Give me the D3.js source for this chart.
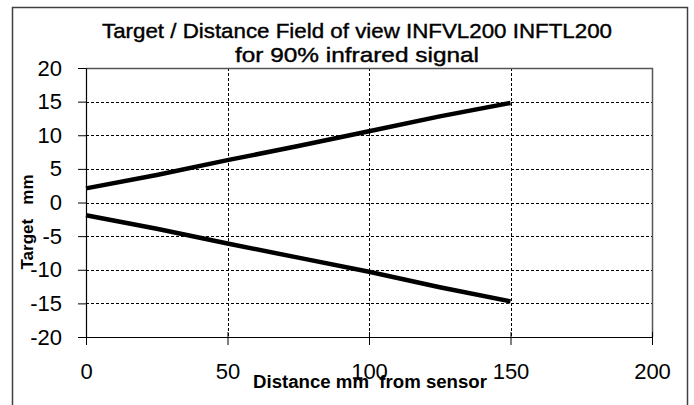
<!DOCTYPE html>
<html>
<head>
<meta charset="utf-8">
<script src="https://cdn.jsdelivr.net/npm/d3@7"></script>
<style>
  body { margin: 0; background: #fff; }
  svg text { font-family: "Liberation Sans", Arial, sans-serif; }
</style>
</head>
<body>
<div id="chart"></div>
<script>
// values (distance in mm, target in mm)
var distance = [0, 25, 50, 75, 100, 125, 150];
var upperEdge = [2.1, 4.1, 6.3, 8.4, 10.6, 12.8, 14.8];
var lowerEdge = [-1.9, -3.9, -6.1, -8.2, -10.3, -12.6, -14.7];
var xTicks = [0, 50, 100, 150, 200];
var yTicks = [-20, -15, -10, -5, 0, 5, 10, 15, 20];
var titleLines = ["Target / Distance Field of view INFVL200 INFTL200", "for 90% infrared signal"];

var W = 694, H = 405;
var margin = {top: 68, right: 42, bottom: 68, left: 86};
var width = W - margin.left - margin.right;
var height = H - margin.top - margin.bottom;

var svg = d3.select("#chart").append("svg")
  .attr("width", W).attr("height", H);

// outer chart border
svg.append("rect")
  .attr("x", 12.5).attr("y", 7.5)
  .attr("width", 675).attr("height", 420)
  .attr("fill", "none").attr("stroke", "#404040").attr("stroke-width", 1.5);

var g = svg.append("g")
  .attr("transform", "translate(" + margin.left + "," + margin.top + ")");

var x = d3.scaleLinear().domain([0, 200]).range([0, width]);
var y = d3.scaleLinear().domain([-20, 20]).range([height, 0]);

// dashed grid
g.append("g").selectAll("line")
  .data(yTicks.filter(function(d) { return d > -20 && d < 20; }))
  .enter().append("line")
    .attr("x1", 0).attr("x2", width)
    .attr("y1", function(d) { return Math.round(y(d)) + 0.5; })
    .attr("y2", function(d) { return Math.round(y(d)) + 0.5; })
    .attr("stroke", "#000").attr("stroke-dasharray", "3,2");
g.append("g").selectAll("line")
  .data(xTicks.filter(function(d) { return d > 0 && d < 200; }))
  .enter().append("line")
    .attr("y1", 0).attr("y2", height)
    .attr("x1", function(d) { return Math.round(x(d)) + 0.5; })
    .attr("x2", function(d) { return Math.round(x(d)) + 0.5; })
    .attr("stroke", "#000").attr("stroke-dasharray", "3,2");

// plot frame top/right
g.append("path")
  .attr("d", "M0,0.5H" + (width + 0.5) + "V" + height)
  .attr("fill", "none").attr("stroke", "#555").attr("stroke-width", 1.5);

// axes (plain hyphen minus like the original)
var fmt = function(d) { return String(d); };

var xAxis = g.append("g")
  .attr("transform", "translate(0," + height + ")")
  .call(d3.axisBottom(x).tickValues(xTicks).tickFormat(fmt).tickSize(8).tickPadding(18).tickSizeOuter(0));
xAxis.selectAll(".tick line").attr("y1", -5);
xAxis.selectAll("text").style("font-size", "22px").attr("fill", "#000");
xAxis.select(".domain").attr("stroke", "#000").attr("stroke-width", 1.2);

var yAxis = g.append("g")
  .call(d3.axisLeft(y).tickValues(yTicks).tickFormat(fmt).tickSize(8).tickPadding(16).tickSizeOuter(0));
yAxis.selectAll("text").style("font-size", "22px").attr("fill", "#000");
yAxis.select(".domain").attr("stroke", "#000").attr("stroke-width", 1.2);

// lines
var line = d3.line()
  .x(function(d) { return x(d[0]); })
  .y(function(d) { return y(d[1]); });

[upperEdge, lowerEdge].forEach(function(series) {
  g.append("path")
    .datum(d3.zip(distance, series))
    .attr("d", line)
    .attr("fill", "none")
    .attr("stroke", "#000")
    .attr("stroke-width", 4.5)
    .attr("stroke-linejoin", "round");
});

// titles
svg.selectAll(".title")
  .data(titleLines)
  .enter().append("text")
    .attr("class", "title")
    .attr("x", 357)
    .attr("y", function(d, i) { return 38 + i * 24; })
    .attr("text-anchor", "middle")
    .style("font-size", "21px")
    .attr("stroke", "#000").attr("stroke-width", 0.4)
    .attr("textLength", function(d, i) { return i == 0 ? 510 : 244; })
    .attr("lengthAdjust", "spacingAndGlyphs")
    .text(function(d) { return d; });

svg.append("text")
  .attr("x", 370).attr("y", 388)
  .attr("text-anchor", "middle")
  .style("font-size", "18px").style("font-weight", "bold")
  .style("white-space", "pre")
  .attr("textLength", 234).attr("lengthAdjust", "spacingAndGlyphs")
  .text("Distance mm  from sensor");

svg.append("text")
  .attr("transform", "translate(33,222) rotate(-90)")
  .attr("text-anchor", "middle")
  .style("font-size", "17px").style("font-weight", "bold")
  .style("white-space", "pre")
  .text("Target   mm");
</script>
</body>
</html>
